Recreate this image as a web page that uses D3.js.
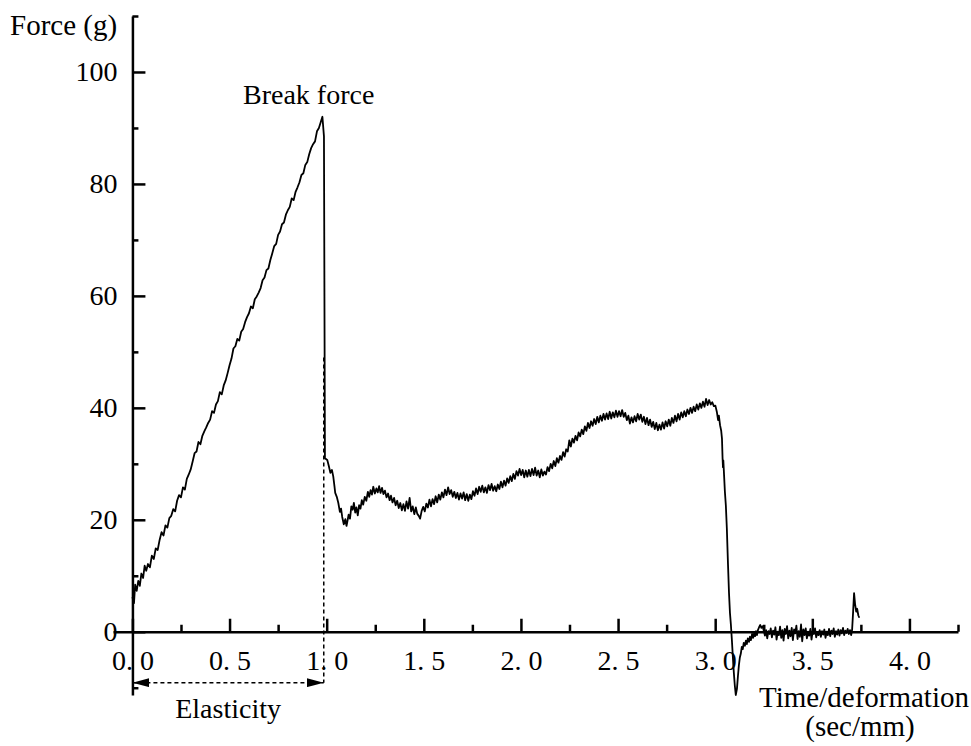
<!DOCTYPE html>
<html>
<head>
<meta charset="utf-8">
<script src="https://cdn.jsdelivr.net/npm/d3@7"></script>
<style>
	body { margin: 0; background: #fff; }
	text { font-family: "Liberation Serif", "Times New Roman", serif; fill: #000; }
</style>
</head>
<body>
<svg id="chart" width="971" height="746"></svg>
<script>
// loading phase: force climbs until the sample breaks
const riseData = [
	[0.000,6.2],[0.008,5.1],[0.014,8.4],[0.022,7.3],[0.030,9.1],[0.038,8.2],[0.046,10.4],[0.055,9.6],
	[0.063,11.8],[0.071,10.9],[0.080,12.1],[0.090,11.5],[0.100,13.6],[0.110,13.0],[0.120,14.9],[0.130,14.6],
	[0.140,16.4],[0.150,17.8],[0.160,17.2],[0.170,19.0],[0.180,18.6],[0.190,20.3],[0.200,20.7],[0.210,21.9],
	[0.220,21.5],[0.230,23.4],[0.240,24.4],[0.250,24.0],[0.260,25.8],[0.270,25.4],[0.280,27.3],[0.290,28.1],
	[0.300,29.0],[0.310,30.4],[0.320,31.9],[0.330,32.2],[0.340,33.9],[0.350,33.5],[0.360,35.0],[0.370,35.8],
	[0.380,36.5],[0.390,37.3],[0.400,37.9],[0.410,39.4],[0.420,39.1],[0.430,40.6],[0.440,41.2],[0.450,42.8],
	[0.460,42.4],[0.470,44.0],[0.480,44.9],[0.490,46.2],[0.500,47.6],[0.510,48.8],[0.520,50.6],[0.530,51.0],
	[0.540,52.3],[0.550,52.0],[0.560,53.6],[0.570,54.1],[0.580,55.3],[0.590,56.2],[0.600,56.9],[0.610,58.1],
	[0.620,57.8],[0.630,59.4],[0.640,59.9],[0.650,60.6],[0.660,61.4],[0.670,62.8],[0.680,63.3],[0.690,64.6],
	[0.700,64.9],[0.710,66.4],[0.720,67.6],[0.730,68.9],[0.740,69.3],[0.750,70.9],[0.760,71.5],[0.770,72.8],
	[0.780,73.1],[0.790,74.5],[0.800,75.3],[0.810,75.9],[0.820,77.4],[0.830,77.1],[0.840,78.6],[0.850,79.4],
	[0.860,80.3],[0.870,81.6],[0.880,81.9],[0.890,83.4],[0.900,83.9],[0.910,85.3],[0.920,86.4],[0.930,87.1],
	[0.940,87.6],[0.950,89.4],[0.960,90.0],[0.970,91.1],[0.978,92.0],[0.986,88.5],[0.991,31.0]
];

// after the break: dip, then slow build-up
const plateauData = [
	[1.003,30.7],[1.011,29.6],[1.019,28.4],[1.027,28.9],[1.034,27.7],[1.040,26.0],[1.044,24.8],[1.052,24.1],
	[1.060,23.0],[1.068,21.4],[1.074,22.0],[1.080,20.5],[1.088,19.2],[1.096,20.1],[1.102,18.9],[1.106,19.6],
	[1.113,20.9],[1.120,20.2],[1.127,22.4],[1.134,21.8],[1.140,23.0],[1.147,21.3],[1.153,22.2],[1.160,20.8],
	[1.167,22.6],[1.174,22.0],[1.181,23.5],[1.188,22.7],[1.196,24.1],[1.204,23.4],[1.212,25.0],[1.219,24.1],
	[1.226,25.3],[1.233,24.5],[1.240,25.9],[1.248,24.7],[1.256,25.6],[1.263,24.9],[1.270,26.0],[1.277,24.8],
	[1.285,25.7],[1.292,24.6],[1.300,25.2],[1.308,24.0],[1.316,24.7],[1.324,23.5],[1.331,24.3],[1.339,23.1],
	[1.347,23.9],[1.355,22.6],[1.363,23.4],[1.371,22.1],[1.379,23.0],[1.387,21.7],[1.395,22.8],[1.403,21.6],
	[1.411,23.3],[1.419,22.0],[1.427,23.9],[1.435,21.5],[1.443,22.4],[1.451,21.0],[1.459,22.2],[1.466,21.1],
	[1.474,20.7],[1.481,20.2],[1.489,21.6],[1.497,22.3],[1.505,21.5],[1.513,22.9],[1.521,22.2],[1.529,23.6],
	[1.537,22.4],[1.545,23.7],[1.553,22.8],[1.561,24.2],[1.569,23.1],[1.577,24.5],[1.585,23.6],[1.593,24.9],
	[1.601,24.0],[1.609,25.4],[1.617,24.4],[1.625,25.8],[1.633,24.6],[1.641,25.3],[1.649,24.1],[1.657,25.0],
	[1.665,23.9],[1.673,24.8],[1.681,23.6],[1.689,24.7],[1.697,23.8],[1.705,24.9],[1.713,23.5],[1.721,24.6],
	[1.729,23.4],[1.737,24.5],[1.745,23.7],[1.753,25.1],[1.761,24.3],[1.769,25.6],[1.777,24.6],[1.785,25.9],
	[1.793,25.0],[1.801,26.1],[1.809,24.9],[1.817,25.8],[1.825,24.8],[1.833,26.2],[1.841,25.3],[1.849,26.4],
	[1.857,25.2],[1.865,26.0],[1.873,25.1],[1.881,26.3],[1.889,25.5],[1.897,26.8],[1.905,25.8],[1.913,27.0],
	[1.921,26.1],[1.929,27.4],[1.937,26.6],[1.945,27.8],[1.953,26.9],[1.961,28.2],[1.969,27.3],[1.977,28.7],
	[1.985,27.9],[1.993,29.1],[2.001,28.0],[2.009,28.9],[2.017,27.6],[2.025,28.8],[2.033,27.7],[2.041,28.9],
	[2.049,27.8],[2.057,29.1],[2.065,28.0],[2.073,29.3],[2.081,27.9],[2.089,28.8],[2.097,27.6],[2.105,29.0],
	[2.113,27.9],[2.121,28.6],[2.129,28.1],[2.137,29.4],[2.145,28.7],[2.153,30.0],[2.161,29.2],[2.169,30.5],
	[2.177,29.6],[2.185,31.0],[2.193,30.2],[2.201,31.4],[2.209,30.7],[2.217,32.1],[2.225,31.3],[2.233,32.6],
	[2.241,32.2],[2.249,34.2],[2.257,33.1],[2.265,34.5],[2.273,33.8],[2.281,35.0],[2.289,34.2],[2.297,35.6],
	[2.305,34.9],[2.313,36.1],[2.321,35.3],[2.329,36.7],[2.337,35.9],[2.345,37.3],[2.353,36.4],[2.361,37.6],
	[2.369,36.8],[2.377,38.0],[2.385,37.1],[2.393,38.4],[2.401,37.4],[2.409,38.6],[2.417,37.7],[2.425,38.9],
	[2.433,37.9],[2.441,39.0],[2.449,38.0],[2.457,39.3],[2.465,38.1],[2.473,39.2],[2.481,38.3],[2.489,39.5],
	[2.497,38.4],[2.505,39.4],[2.513,38.5],[2.521,39.6],[2.529,38.4],[2.537,39.1],[2.545,37.8],[2.553,38.6],
	[2.561,37.2],[2.569,38.3],[2.577,37.4],[2.585,38.5],[2.593,37.6],[2.601,38.9],[2.609,37.9],[2.617,38.8],
	[2.625,37.5],[2.633,38.4],[2.641,37.1],[2.649,38.2],[2.657,36.9],[2.665,37.9],[2.673,36.6],[2.681,37.5],
	[2.689,36.2],[2.697,37.3],[2.705,36.0],[2.713,37.0],[2.721,36.1],[2.729,37.4],[2.737,36.3],[2.745,37.6],
	[2.753,36.7],[2.761,37.9],[2.769,36.8],[2.777,38.2],[2.785,37.3],[2.793,38.6],[2.801,37.6],[2.809,38.9],
	[2.817,37.9],[2.825,39.2],[2.833,38.3],[2.841,39.4],[2.849,38.5],[2.857,39.7],[2.865,38.9],[2.873,40.0],
	[2.881,39.1],[2.889,40.2],[2.897,39.4],[2.905,40.6],[2.913,39.7],[2.921,40.8],[2.929,40.0],[2.937,41.1],
	[2.945,40.2],[2.953,41.6],[2.961,40.5],[2.969,41.4],[2.977,40.6],[2.985,41.0],[2.993,40.3]
];

// probe withdrawal
const releaseData = [
	[3.001,40.4],[3.009,39.2],[3.015,37.8],[3.019,38.6],[3.025,36.9],[3.031,35.9],[3.035,34.5],[3.038,31.0],
	[3.040,29.4],[3.042,30.6],[3.046,27.8],[3.050,25.0],[3.055,22.5],[3.060,18.5],[3.066,12.0],[3.071,7.0],
	[3.076,3.4],[3.081,1.2],[3.086,-1.5],[3.091,-4.5],[3.096,-7.3],[3.101,-9.6],[3.106,-11.3],[3.112,-10.2],
	[3.117,-8.0],[3.122,-6.0],[3.127,-4.6],[3.132,-3.9],[3.137,-2.7],[3.142,-3.1],[3.147,-2.0],[3.153,-2.5],
	[3.158,-1.6],[3.163,-2.2],[3.168,-1.2],[3.174,-1.8],[3.179,-0.9],[3.184,-1.5],[3.190,-0.4],[3.195,-1.1],
	[3.200,-0.3],[3.205,-0.8],[3.210,0.1],[3.215,-0.6],[3.220,0.3],[3.226,0.8],[3.232,1.2],[3.238,0.7],
	[3.244,1.0],[3.250,0.2]
];

const tailData = [
	[3.256,-0.7],[3.262,0.3],[3.268,-1.2],[3.274,0.1],[3.280,-0.4],[3.286,0.6],[3.292,-1.0],[3.298,0.2],
	[3.304,-0.5],[3.310,0.8],[3.316,-1.4],[3.322,0.0],[3.328,-0.6],[3.334,0.9],[3.340,-1.1],[3.346,0.3],
	[3.352,-1.6],[3.358,0.5],[3.364,-0.4],[3.370,1.0],[3.376,-1.2],[3.382,0.2],[3.388,-0.8],[3.394,0.7],
	[3.400,-1.5],[3.406,0.4],[3.412,-0.3],[3.418,1.1],[3.424,-1.3],[3.430,0.1],[3.436,-0.9],[3.442,1.3],
	[3.448,-1.7],[3.454,0.4],[3.460,-0.6],[3.466,0.6],[3.472,-1.2],[3.478,0.0],[3.484,-0.7],[3.490,0.5],
	[3.496,-1.4],[3.502,0.2],[3.508,-0.4],[3.514,0.6],[3.520,-1.0],[3.526,-0.1],[3.532,-0.6],[3.538,0.3],
	[3.544,-0.9],[3.550,0.1],[3.556,-0.5],[3.562,0.4],[3.568,-1.1],[3.574,0.0],[3.580,-0.6],[3.586,0.5],
	[3.592,-0.8],[3.598,0.2],[3.604,-0.4],[3.610,0.6],[3.616,-0.9],[3.622,0.1],[3.628,-0.5],[3.634,0.4],
	[3.640,-0.7],[3.646,0.3],[3.652,-0.3],[3.658,0.7],[3.664,-0.6],[3.670,0.2],[3.676,-0.2],[3.682,0.5],
	[3.688,-0.4],[3.694,0.3],[3.700,-0.6],[3.705,0.4],[3.710,3.5],[3.715,6.9],[3.720,5.0],[3.726,3.6],
	[3.731,4.1],[3.737,2.9],[3.742,2.5]
];

const xMajorTicks = [0, 0.5, 1.0, 1.5, 2.0, 2.5, 3.0, 3.5, 4.0];
const xMinorTicks = [0.25, 0.75, 1.25, 1.75, 2.25, 2.75, 3.25, 3.75, 4.25];
const yMajorTicks = [0, 20, 40, 60, 80, 100];
const yMinorTicks = [-10, 10, 30, 50, 70, 90, 110];

// annotation anchors (data units)
const breakX = 0.985;
const breakDashTop = 49;
const elasticityY = -9.1;

(function() {
	const svg = d3.select('#chart');

	const x = d3.scaleLinear().domain([-0.1, 4.25]).range([113, 958]);
	const y = d3.scaleLinear().domain([-11.3, 110]).range([695, 16]);

	const axisStyle = function(g) {
		g.selectAll('path, line').attr('stroke', '#000').attr('stroke-width', 2.5);
	};

	// x axis sits on force = 0, ticks point up
	svg.append('g')
		.attr('transform', 'translate(0,' + y(0) + ')')
		.call(d3.axisTop(x).tickValues(xMajorTicks).tickSize(13).tickSizeOuter(0).tickFormat(''))
		.call(axisStyle);
	svg.append('g')
		.attr('transform', 'translate(0,' + y(0) + ')')
		.call(d3.axisTop(x).tickValues(xMinorTicks).tickSize(7).tickFormat(''))
		.call(axisStyle)
		.call(function(g) { g.select('.domain').remove(); });
	svg.append('g')
		.attr('transform', 'translate(0,' + y(0) + ')')
		.call(d3.axisBottom(x).tickValues(xMajorTicks).tickSize(0).tickPadding(18)
			.tickFormat(function(d) { return d.toFixed(1).replace('.', '. '); }))
		.call(function(g) {
			g.select('.domain').remove();
			g.selectAll('text').attr('font-size', 28)
				.attr('font-family', '"Liberation Serif", serif');
		});

	// y axis at time = 0, ticks point right
	svg.append('g')
		.attr('transform', 'translate(' + x(0) + ',0)')
		.call(d3.axisRight(y).tickValues(yMajorTicks).tickSize(13).tickSizeOuter(0).tickFormat(''))
		.call(axisStyle);
	svg.append('g')
		.attr('transform', 'translate(' + x(0) + ',0)')
		.call(d3.axisRight(y).tickValues(yMinorTicks).tickSize(6).tickFormat(''))
		.call(axisStyle)
		.call(function(g) { g.select('.domain').remove(); });
	svg.append('g')
		.attr('transform', 'translate(' + x(0) + ',0)')
		.call(d3.axisLeft(y).tickValues(yMajorTicks).tickSize(0).tickPadding(15))
		.call(function(g) {
			g.select('.domain').remove();
			g.selectAll('text').attr('font-size', 28)
				.attr('font-family', '"Liberation Serif", serif');
		});

	// the force curve
	const curve = riseData.concat(plateauData, releaseData, tailData);
	const line = d3.line()
		.x(function(d) { return x(d[0]); })
		.y(function(d) { return y(d[1]); });
	svg.append('path')
		.datum(curve)
		.attr('d', line)
		.attr('fill', 'none')
		.attr('stroke', '#000')
		.attr('stroke-width', 1.8)
		.attr('stroke-linejoin', 'round');

	// elasticity marker
	svg.append('defs').append('marker')
		.attr('id', 'arrow')
		.attr('markerUnits', 'userSpaceOnUse')
		.attr('viewBox', '0 0 17 9')
		.attr('markerWidth', 17)
		.attr('markerHeight', 9)
		.attr('refX', 17)
		.attr('refY', 4.5)
		.attr('orient', 'auto-start-reverse')
		.append('path')
		.attr('d', 'M0,0L17,4.5L0,9Z')
		.attr('fill', '#000');

	svg.append('line')
		.attr('x1', x(breakX)).attr('x2', x(breakX))
		.attr('y1', y(breakDashTop)).attr('y2', y(elasticityY))
		.attr('stroke', '#000')
		.attr('stroke-width', 1.5)
		.attr('stroke-dasharray', '4,3');

	svg.append('line')
		.attr('x1', x(0)).attr('x2', x(breakX))
		.attr('y1', y(elasticityY)).attr('y2', y(elasticityY))
		.attr('stroke', '#000')
		.attr('stroke-width', 1.5)
		.attr('stroke-dasharray', '4,3')
		.attr('marker-start', 'url(#arrow)')
		.attr('marker-end', 'url(#arrow)');

	// labels
	svg.append('text')
		.attr('x', 10).attr('y', 35)
		.attr('font-size', 29)
		.text('Force (g)');
	svg.append('text')
		.attr('x', 243).attr('y', 104)
		.attr('font-size', 28)
		.text('Break force');
	svg.append('text')
		.attr('x', (x(0) + x(breakX)) / 2).attr('y', y(elasticityY) + 35)
		.attr('text-anchor', 'middle')
		.attr('font-size', 28)
		.text('Elasticity');
	svg.append('text')
		.attr('x', 864).attr('y', 707)
		.attr('text-anchor', 'middle')
		.attr('font-size', 29)
		.text('Time/deformation');
	svg.append('text')
		.attr('x', 860).attr('y', 736)
		.attr('text-anchor', 'middle')
		.attr('font-size', 29)
		.text('(sec/mm)');
})();
</script>
</body>
</html>
